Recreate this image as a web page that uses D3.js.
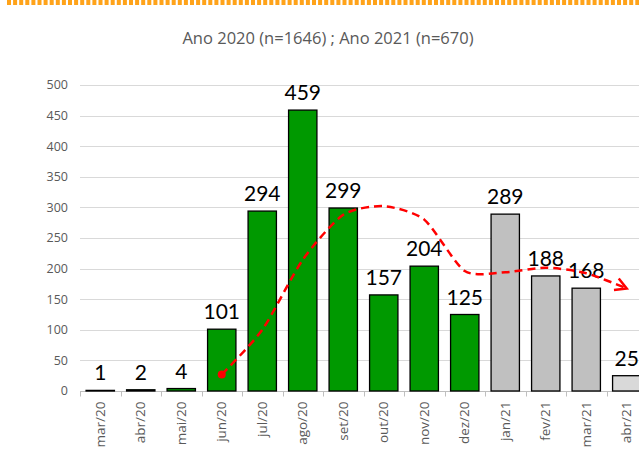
<!DOCTYPE html>
<html>
<head>
<meta charset="utf-8">
<script src="https://cdn.jsdelivr.net/npm/d3@7"></script>
<style>
  body { margin: 0; background: #fff; overflow: hidden; }
  svg { display: block; }
</style>
</head>
<body>
<div id="chart"></div>
<script>
// data
var months = ["mar/20","abr/20","mai/20","jun/20","jul/20","ago/20","set/20","out/20","nov/20","dez/20","jan/21","fev/21","mar/21","abr/21"];
var counts = [1, 2, 4, 101, 294, 459, 299, 157, 204, 125, 289, 188, 168, 25];
// year of each bar (2021 bars are grey, last month partial)
var groups = ["2020","2020","2020","2020","2020","2020","2020","2020","2020","2020","2021","2021","2021","partial"];
// dashed trend (moving average), starts at jun/20
var trendMonths = ["jun/20","jul/20","ago/20","set/20","out/20","nov/20","dez/20","jan/21","fev/21","mar/21","abr/21"];
var trendValues = [27, 100, 214.5, 288, 302, 280, 196, 194, 201.5, 192.5, 167.5];
var yTicks = [0, 50, 100, 150, 200, 250, 300, 350, 400, 450, 500];
var title = "Ano 2020 (n=1646) ; Ano 2021 (n=670)";

var colors = {"2020": "#009900", "2021": "#c0c0c0", "partial": "#d9d9d9"};

var width = 639, height = 470;

var svg = d3.select("#chart").append("svg")
    .attr("width", width)
    .attr("height", height);

// dotted orange frame at the top
svg.append("line")
    .attr("x1", 7).attr("x2", width)
    .attr("y1", 2.5).attr("y2", 2.5)
    .attr("stroke", "#ffa31a")
    .attr("stroke-width", 5)
    .attr("stroke-dasharray", "4,2.1");

svg.append("text")
    .attr("x", 328)
    .attr("y", 44)
    .attr("text-anchor", "middle")
    .style("font-family", "'Open Sans', sans-serif")
    .style("font-size", "16.5px")
    .style("fill", "#595959")
    .text(title);

var x = d3.scaleBand()
    .domain(months)
    .range([80, 647])
    .paddingInner(0.3)
    .paddingOuter(0.15);

var y = d3.scaleLinear()
    .domain([0, 500])
    .range([391, 85]);

// gridlines
svg.append("g").selectAll("line")
    .data(yTicks.filter(function(d){ return d > 0; }))
    .enter().append("line")
    .attr("x1", 80).attr("x2", width)
    .attr("y1", function(d){ return Math.round(y(d)) + 0.5; })
    .attr("y2", function(d){ return Math.round(y(d)) + 0.5; })
    .attr("stroke", "#d9d9d9")
    .attr("stroke-width", 1);

// y labels
svg.append("g").selectAll("text")
    .data(yTicks)
    .enter().append("text")
    .attr("x", 68)
    .attr("y", function(d){ return y(d); })
    .attr("dy", "0.35em")
    .attr("text-anchor", "end")
    .style("font-family", "'Open Sans', sans-serif")
    .style("font-size", "12.5px")
    .style("fill", "#595959")
    .text(function(d){ return d; });

// x axis
var xAxis = svg.append("g")
    .attr("transform", "translate(0," + (Math.round(y(0)) + 0.5) + ")");
xAxis.append("line")
    .attr("x1", 80).attr("x2", width)
    .attr("stroke", "#bfbfbf");
xAxis.selectAll("line.tick")
    .data(d3.range(months.length + 1))
    .enter().append("line")
    .attr("class", "tick")
    .attr("x1", function(i){ return Math.round(80 + i * x.step()) + 0.5; })
    .attr("x2", function(i){ return Math.round(80 + i * x.step()) + 0.5; })
    .attr("y1", 0).attr("y2", 5)
    .attr("stroke", "#bfbfbf");
xAxis.selectAll("text")
    .data(months)
    .enter().append("text")
    .attr("transform", function(d){
        return "translate(" + (x(d) + x.bandwidth() / 2) + ",10) rotate(-90)";
    })
    .attr("dy", "0.35em")
    .attr("text-anchor", "end")
    .style("font-family", "'Open Sans', sans-serif")
    .style("font-size", "13.5px")
    .style("fill", "#595959")
    .text(function(d){ return d; });

// bars
svg.append("g").selectAll("rect")
    .data(counts)
    .enter().append("rect")
    .attr("x", function(d, i){ return x(months[i]); })
    .attr("y", function(d){ return y(d); })
    .attr("width", x.bandwidth())
    .attr("height", function(d){ return y(0) - y(d); })
    .attr("fill", function(d, i){ return colors[groups[i]]; })
    .attr("stroke", "#000")
    .attr("stroke-width", 1.3);

// value labels
svg.append("g").selectAll("text")
    .data(counts)
    .enter().append("text")
    .attr("x", function(d, i){ return x(months[i]) + x.bandwidth() / 2; })
    .attr("y", function(d){ return y(d) - 10; })
    .attr("text-anchor", "middle")
    .style("font-family", "Lato, sans-serif")
    .style("font-size", "21px")
    .style("fill", "#000")
    .text(function(d){ return d; });

// trend line
svg.append("defs").append("marker")
    .attr("id", "arrow")
    .attr("viewBox", "0 0 12 12")
    .attr("refX", 10).attr("refY", 6)
    .attr("markerWidth", 6).attr("markerHeight", 6)
    .attr("markerUnits", "strokeWidth")
    .attr("orient", "auto")
    .append("path")
    .attr("d", "M1,1 L10,6 L1,11")
    .attr("fill", "none")
    .attr("stroke", "#ff0000")
    .attr("stroke-width", 2);

var line = d3.line()
    .x(function(d, i){ return x(trendMonths[i]) + x.bandwidth() / 2; })
    .y(function(d){ return y(d); })
    .curve(d3.curveCardinal.tension(0.3));

svg.append("path")
    .datum(trendValues)
    .attr("d", line)
    .attr("fill", "none")
    .attr("stroke", "#ff0000")
    .attr("stroke-width", 2.5)
    .attr("stroke-dasharray", "8,5")
    .attr("marker-end", "url(#arrow)");

svg.append("circle")
    .attr("cx", x(trendMonths[0]) + x.bandwidth() / 2)
    .attr("cy", y(trendValues[0]))
    .attr("r", 4)
    .attr("fill", "#ff0000");
</script>
</body>
</html>
